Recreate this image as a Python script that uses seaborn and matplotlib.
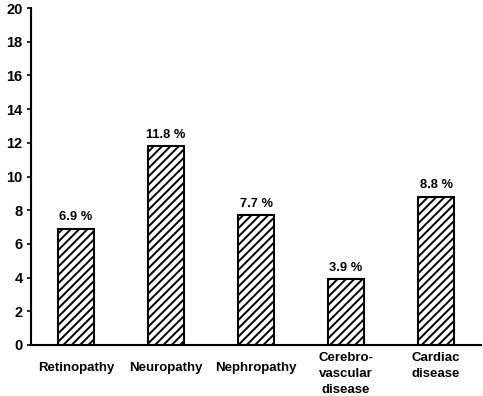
import matplotlib
matplotlib.use("Agg")
import matplotlib.pyplot as plt
import seaborn as sns
import pandas as pd
import numpy as np

categories = ["Retinopathy", "Neuropathy", "Nephropathy", "Cerebro-\nvascular\ndisease", "Cardiac\ndisease"]
values = [6.9, 11.8, 7.7, 3.9, 8.8]
value_labels = ["6.9 %", "11.8 %", "7.7 %", "3.9 %", "8.8 %"]
yticks = [0, 2, 4, 6, 8, 10, 12, 14, 16, 18, 20]

sns.set_theme(style="white")
plt.rcParams['font.family'] = ['Liberation Sans', 'DejaVu Sans']
plt.rcParams['font.weight'] = 'bold'
plt.rcParams['hatch.linewidth'] = 1.4

df = pd.DataFrame({"cat": categories, "val": values})

fig = plt.figure(figsize=(4.83, 3.96), dpi=100)
ax = fig.add_axes([31/483, 1-345/396, 450/483, 337/396])
sns.barplot(data=df, x="cat", y="val", color="white", edgecolor="black",
            linewidth=1.5, width=0.41, ax=ax, saturation=1)
for p in ax.patches:
    p.set_hatch("////")
    p.set_facecolor("white")
    p.set_edgecolor("black")

for i, (v, lab) in enumerate(zip(values, value_labels)):
    ax.annotate(lab, (i, v), xytext=(0, 4), textcoords="offset points",
                ha="center", va="bottom", fontsize=9.3, fontweight="bold", color="black")

# category labels: single-line ones sit lower, multi-line ones start higher
for i, lab in enumerate(categories):
    off = -12.5 if "\n" not in lab else -4.8
    ax.annotate(lab, (i, 0), xytext=(0, off), textcoords="offset points",
                ha="center", va="top", fontsize=9.5, fontweight="bold",
                color="black", linespacing=1.45, annotation_clip=False)

ax.set_xlim(-0.5, 4.5)
ax.set_ylim(0, 20)
ax.set_yticks(yticks)
ax.set_yticklabels([str(t) for t in yticks], fontsize=10.5, fontweight="bold", color="black")
ax.set_xticks(range(len(categories)))
ax.set_xticklabels([])
ax.set_xticks(np.arange(0.5, 4.6, 1), minor=True)
ax.tick_params(axis="x", which="major", length=0)
ax.tick_params(axis="x", which="minor", length=3, direction="in", width=1.2, color="black")
ax.tick_params(axis="y", which="major", length=3, direction="out", width=1.2, color="black", pad=3, left=True)
ax.set_xlabel("")
ax.set_ylabel("")
for s in ["top", "right"]:
    ax.spines[s].set_visible(False)
for s in ["left", "bottom"]:
    ax.spines[s].set_color("black")
    ax.spines[s].set_linewidth(1.5)

fig.savefig("out.png", dpi=100)
